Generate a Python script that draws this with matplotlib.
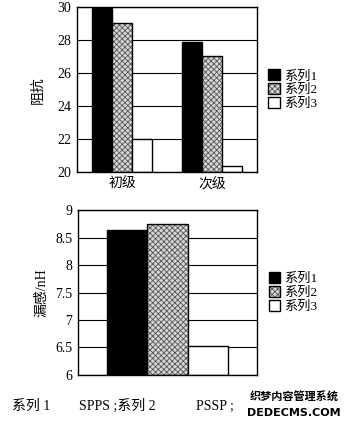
import matplotlib
matplotlib.use('Agg')
import numpy as np
import matplotlib.pyplot as plt
from matplotlib.patches import Patch

serif = ['Liberation Serif', 'Noto Sans CJK SC', 'DejaVu Sans']
plt.rcParams['font.family'] = serif
plt.rcParams['hatch.linewidth'] = 0.6

# data
series = ['系列1', '系列2', '系列3']
top_cats = ['初级', '次级']
top_vals = [[30.0, 27.9],
            [29.05, 27.05],
            [22.0, 20.35]]
top_ticks = [20, 22, 24, 26, 28, 30]

bot_vals = [8.63, 8.75, 6.52]
bot_ticks = [6, 6.5, 7, 7.5, 8, 8.5, 9]
bot_ticklabels = ['6', '6.5', '7', '7.5', '8', '8.5', '9']

caption = ['系列 1', 'SPPS ;系列 2', 'PSSP ;']

faces = ['black', '#d6d6d6', 'white']
hatches = [None, 'xxxxxx', None]
hatch_edge = ['black', '#555555', 'white']

fig = plt.figure(figsize=(3.54, 4.23), dpi=100)
ax1 = fig.add_axes([0.2175, 0.593, 0.508, 0.390])
ax2 = fig.add_axes([0.220, 0.1135, 0.506, 0.390])

w = 0.225


def style(ax):
    for s in ax.spines.values():
        s.set_linewidth(1.0)
        s.set_color('black')
    ax.tick_params(length=0, labelsize=10, pad=4)
    for lab in ax.get_yticklabels():
        lab.set_family(serif)
    ax.yaxis.grid(True, color='black', linewidth=0.8)
    ax.set_axisbelow(True)


def draw_bars(ax, xs, vals, base, i):
    # fill + hatch, then black outline on top
    ax.bar(xs, np.array(vals) - base, w, bottom=base, color=faces[i],
           hatch=hatches[i], edgecolor=hatch_edge[i], linewidth=0)
    ax.bar(xs, np.array(vals) - base, w, bottom=base, facecolor='none',
           edgecolor='black', linewidth=1.0)


x = np.arange(len(top_cats))
for i in range(3):
    draw_bars(ax1, x + (i - 1) * w, top_vals[i], 20, i)
ax1.set_xlim(-0.5, 1.5)
ax1.set_ylim(20, 30)
ax1.set_yticks(top_ticks)
ax1.set_xticks(x)
ax1.set_xticklabels(top_cats, family=serif, fontsize=10)
ax1.set_ylabel('阻抗', family=serif, fontsize=10, labelpad=9)
style(ax1)

for i in range(3):
    draw_bars(ax2, [(i - 1) * w], [bot_vals[i]], 6, i)
ax2.set_xlim(-0.5, 0.5)
ax2.set_ylim(6, 9)
ax2.set_yticks(bot_ticks)
ax2.set_yticklabels(bot_ticklabels)
ax2.set_xticks([])
ax2.set_ylabel('漏感/nH', family=serif, fontsize=10, labelpad=5)
style(ax2)

handles = [(Patch(facecolor=faces[i], hatch=hatches[i], edgecolor=hatch_edge[i], linewidth=0),
            Patch(facecolor='none', edgecolor='black', linewidth=1.0))
           for i in range(3)]
for ax in (ax1, ax2):
    ax.legend(handles, series, loc='center left', bbox_to_anchor=(1.02, 0.5),
              frameon=False, prop={'family': serif, 'size': 9.5},
              handlelength=0.9, handleheight=0.9, handletextpad=0.3,
              labelspacing=0.05, borderaxespad=0.2)

cap_y = 1 - 410 / 423
fig.text(12 / 354, cap_y, caption[0], family=serif, fontsize=10, va='baseline')
fig.text(79 / 354, cap_y, caption[1], family=serif, fontsize=10, va='baseline')
fig.text(196 / 354, cap_y, caption[2], family=serif, fontsize=10, va='baseline')
fig.text(294 / 354, 1 - 397 / 423, '织梦内容管理系统', family=['Noto Sans CJK SC'], fontsize=8,
         fontweight='bold', ha='center', va='center')
fig.text(294 / 354, 1 - 413 / 423, 'DEDECMS.COM', family=['DejaVu Sans'], fontsize=8,
         fontweight='bold', ha='center', va='center')

fig.savefig('out.png', dpi=100)
